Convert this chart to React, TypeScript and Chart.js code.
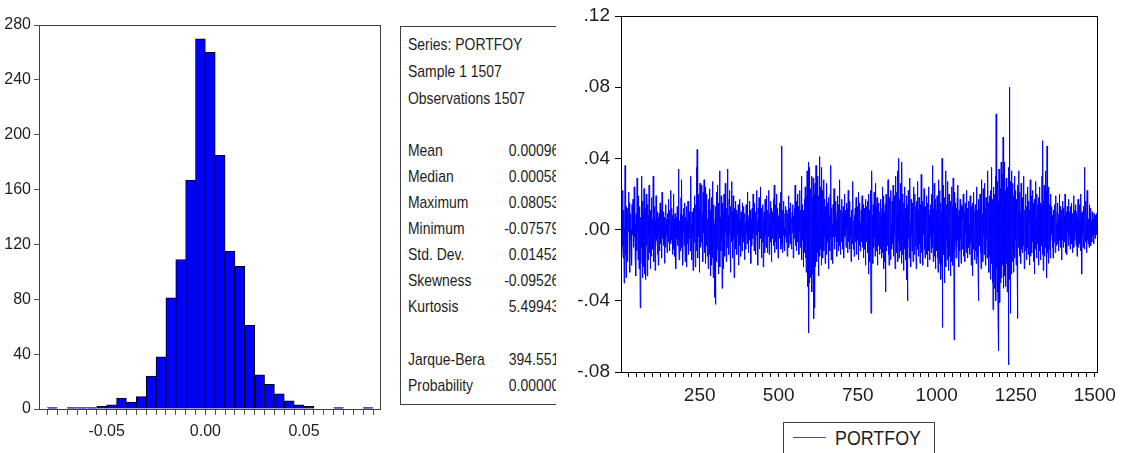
import React, { useEffect, useRef } from "react";
import { Chart, registerables } from "chart.js";

Chart.register(...registerables);

const FONT = "'Liberation Sans', Arial, sans-serif";

// ---------- Histogram ----------
const HIST_BIN_EDGES = [
  -0.08, -0.075, -0.07, -0.065, -0.06, -0.055, -0.05, -0.045, -0.04, -0.035, -0.03, -0.025,
  -0.02, -0.015, -0.01, -0.005, 0, 0.005, 0.01, 0.015, 0.02, 0.025, 0.03, 0.035, 0.04,
  0.045, 0.05, 0.055, 0.06, 0.065, 0.07, 0.075, 0.08, 0.085,
];
const HIST_COUNTS = [
  1, 0, 1, 1, 1, 2, 3, 8, 5, 9, 24, 38, 81, 109, 167, 270, 260, 185, 115, 104, 61, 25, 18,
  11, 6, 3, 2, 0, 0, 1, 0, 0, 1,
];
const HIST_AXIS_MIN = -0.0843;
const HIST_AXIS_MAX = 0.0885;
const HIST_Y_TICKS = [0, 40, 80, 120, 160, 200, 240, 280];
const HIST_X_LABEL_VALUES = [-0.05, 0, 0.05];
const HIST_X_LABEL_TEXT = ["-0.05", "0.00", "0.05"];

// ---------- Statistics box ----------
const STATS_HEADER = ["Series: PORTFOY", "Sample 1 1507", "Observations 1507"];
const STATS_LABELS = ["Mean", "Median", "Maximum", "Minimum", "Std. Dev.", "Skewness", "Kurtosis"];
const STATS_VALUES = ["0.000963", "0.000586", "0.080533", "-0.075791", "0.014522", "-0.095261", "5.499431"];
const TEST_LABELS = ["Jarque-Bera", "Probability"];
const TEST_VALUES = ["394.5510", "0.000000"];

// ---------- PORTFOY series (values in thousandths) ----------
const PORTFOY_1 = [
  4, -12, 18, -2, 7, 22, -9, -16, 3, 11, -30, 1, -6, 36, -14, 2, -27, 13, -4, 8,
  -18, 3, 12, -1, 6, 21, -8, 15, -24, 2, -5, 9, -13, 0, -20, 14, 4, -3, 17, -10,
  1, -7, 24, -4, 11, -15, 3, -26, 9, 2, -12, 29, -1, 5, -17, 8, 19, -22, 4, -6,
  13, -44, 7, -19, 3, 30, -10, 16, -27, 1, 9, -21, 4, 23, -2, -25, 6, 12, -28, 5,
  20, -9, 2, -26, 14, 5, -17, 8, -3, 25, -13, 0, 7, -22, 11, -4, 18, -15, 3, -8,
  6, -11, 30, 2, -18, 8, -4, 13, -23, 5, -9, 19, 1, -6, 4, -14, 10, 3, -20, 7,
  -4, 9, -12, 3, 15, -1, -8, 11, 0, -16, 21, -5, 2, 10, -9, 4, -2, 7, -19, 6,
  1, -10, 14, -3, 6, 0, -13, 9, -2, 4, 17, -7, -3, 11, -12, 3, 5, -8, 22, -1,
  -6, 12, 2, -14, 8, -4, 20, -11, 1, 6, -15, 9, -2, 4, -22, 7, 1, -5, 13, -9,
  3, 11, 34, -6, -17, 5, 2, -12, 9, -3, 18, -10, 28, -4, 1, 8, -20, 6, -1, 12,
  -9, 3, 15, -18, 1, 7, -4, 13, -21, 5, 2, -8, 16, -3, -14, 6, 10, -5, 1, -12,
  7, 30, -6, 3, -17, 10, -2, 5, -23, 12, 1, -7, 19, -3, 8, -21, 4, 14, -6, 35,
  -12, 45, 2, -16, 7, 20, -4, 11, -24, 5, 26, -10, 3, 18, -7, 13, 25, -5, 9, -18,
  21, -2, 8, 28, -13, 5, 16, -19, 24, -1, 12, -9, 20, -15, 6, 2, -22, 17, -5, 10,
  -14, 23, 4, -26, 11, -7, 18, -20, 2, 27, -16, 6, -27, 14, -10, 3, -23, -38, 6, -42,
  13, -18, 21, 1, -11, 8, 25, -14, 4, -25, 15, -3, 33, -21, 7, 1, -12, 19, -6, 10,
  -33, 15, -4, 11, -22, 5, 20, -8, 2, -15, 26, -2, 7, -18, 12, 3, -10, 34, -5, 8,
  1, -14, 17, -3, 22, -11, 6, -24, 13, 1, 27, -7, 10, -16, 3, 19, -5, 8, -27, 12,
  -2, 7, -11, 16, 1, -6, 11, -14, 4, 9, -3, 14, -20, 2, 6, -9, 17, -1, 5, -15,
  10, -4, 3, -12, 15, 0, -7, 6, 13, -5, 2, -17, 9, -1, 4, -11, 14, -2, 7, -8,
  21, -3, 5, -13, 1, 8, -6, 16, -4, 11, -1, -19, 6, 3, -9, 12, 1, -5, 20, -2,
  4, -12, 7, 15, -6, 1, -14, 10, -3, 22, 2, -9, 5, -20, 12, -1, 6, 18, -11, 3,
  -5, 24, -2, 9, -16, 3, 12, -7, 1, 14, -21, 6, -4, 10, 2, -13, 17, -3, 8, -10,
  1, 19, -6, 3, -13, 11, 0, -4, 22, -14, 5, 9, -2, 16, -7, 2, -18, 12, 4, -5,
  10, -1, 17, -9, 3, 25, -13, 6, -3, 14, -7, 1, 20, -11, 5, -2, 12, -16, 7, 1,
];
const PORTFOY_2 = [
  8, -5, 15, -2, 4, 21, -11, 6, 47, -8, 2, -13, 11, -3, 5, 16, -9, 1, -12, 9,
  -4, 7, 13, -7, 1, 11, -15, 3, 9, -1, 19, -10, 5, -3, 12, -8, 2, 15, -5, 6,
  -11, 4, 10, -2, 14, -16, 1, 8, -5, 12, -1, 25, -9, 3, 16, -12, 6, -4, 20, 1,
  -7, 13, 4, -14, 8, -1, 22, -10, 5, 11, -4, 30, -17, 2, 14, -6, 8, -21, 11, 3,
  -13, 17, -8, 24, -16, 5, -24, 19, -4, 33, -32, -19, 12, 38, -58, 8, -30, 35, -22, 14,
  -27, 23, -12, 30, -35, 7, 18, -25, 29, -32, -50, 20, -14, -44, 26, 5, -21, 36, -8, 15,
  -18, 11, 30, -13, 4, -26, 19, -7, 41, -15, 8, 24, -11, 3, -20, 35, 14, -8, 22, -16,
  6, 28, -12, 17, -4, 10, -19, 13, 2, -9, 26, -14, 5, 15, -7, 11, -22, 4, 18, -3,
  8, -12, 20, -5, 36, -17, 4, 12, -10, 3, -19, 14, -4, 7, 23, -11, 2, -7, 16, -4,
  11, -2, 6, -15, 10, 19, -7, 4, -12, 14, 1, -9, 28, -4, 7, -14, 11, 3, -7, 17,
  -5, 9, -11, 13, 2, -16, 7, 20, -4, 11, -3, 5, -10, 15, -7, 1, 12, -13, 4, 22,
  -7, 10, 3, -11, 16, -4, 7, -2, -18, 11, 4, -8, 14, -4, 27, -11, 5, 2, -15, 8,
  -3, 12, -7, 5, 18, -14, 4, 10, -6, 13, -1, -17, 21, 7, -9, 3, 15, -12, 4, -4,
  11, -7, 7, 19, -10, 2, 14, -16, 5, -3, 12, -11, 4, 17, -20, 8, -2, 13, -7, 3,
  16, -13, 7, -25, 20, -6, 11, -18, 4, 22, -9, -47, 15, -30, 33, -12, 8, -19, 14, 2,
  -10, 21, -4, 9, -15, 26, 3, -12, 13, -7, 18, -20, 6, 11, -3, 15, -9, 4, -14, 10,
  5, -11, 17, -2, 8, -16, 12, 24, -13, 3, 19, -8, -22, 10, 6, -18, 14, -35, 7, 20,
  -12, 15, 4, -9, 11, 28, -14, 6, -20, 18, -5, 13, 9, -17, 22, -6, 3, -11, 16, 1,
  -8, 25, -15, 12, -3, 19, 6, -22, 30, -10, 14, -5, 21, -13, 8, 33, -18, 11, -7, 40,
  -16, 17, 4, -12, 26, -9, 13, -19, 7, 38, -14, 20, -6, 10, -23, 15, 3, -11, 24, -8,
  12, -17, 6, 19, -28, 9, -40, 14, -10, 22, -5, 11, -16, 7, 29, -13, 4, -21, 17, -3,
  8, -12, 15, 2, -18, 24, -7, 10, -14, 5, 20, -9, 13, -4, -22, 16, 6, -11, 27, -6,
  11, -15, 3, 18, -8, 9, -19, 14, 2, -10, 31, -13, 7, -5, 16, -20, 12, -3, 8, 23,
  -11, 6, -16, 13, 4, -9, 19, -14, 10, 1, -21, 15, -6, 24, -12, 8, 3, -17, 11, -4,
  14, -8, 20, -13, 5, 36, -10, 7, -18, 12, -3, 26, -15, 9, 2, -22, 17, -7, 11, -12,
];
const PORTFOY_3 = [
  19, -16, 8, -24, 13, 28, -11, 5, -19, 22, -8, 15, -28, 10, 3, -20, 40, -55, 17, -9,
  25, -14, 11, -30, 6, 18, -12, 33, -21, 9, -6, 14, -17, 27, -10, 4, -23, 12, 20, -15,
  7, -9, 16, -26, 11, 3, -18, 24, -8, 13, -20, 29, -13, 6, -62, 21, -11, 15, -7, 9,
  -16, 12, 2, -10, 18, -6, 25, -14, 8, -21, 11, 4, -12, 17, -5, 9, -19, 14, 1, -8,
  13, -11, 6, 20, -15, 3, -7, 10, -18, 15, -2, 8, -13, 22, -9, 5, 12, -16, 7, -4,
  16, -10, 3, -14, 11, 19, -8, 6, -20, 13, -3, 9, -26, 15, 4, -11, 21, -6, 10, -17,
  8, 14, -12, 2, -19, 24, -7, 11, -15, 5, -27, -40, 17, -9, 12, -4, 20, -13, 6, -22,
  28, -11, 14, -6, 9, -18, 23, -3, 15, -14, 7, 26, -9, 12, -20, 18, -5, 10, -16, 21,
  -12, 33, -8, 15, -24, 11, 19, -15, 6, -28, 22, -10, 35, -19, 13, -30, 17, -45, 24, -14,
  9, -33, 20, -26, 15, 30, -40, 65, -22, 12, -35, 27, -18, -50, 16, -68, 34, -25, 19, -41,
  23, -30, 11, 38, -27, 14, -20, 31, -15, 52, -33, 25, -12, 38, -26, 18, -32, 22, -10, 29,
  -19, 13, -35, 24, -22, 16, -76, 35, -28, 80, -21, 20, -47, 27, -14, 33, -25, 12, -18, 26,
  -11, 19, -24, 15, -9, 30, -16, 22, -6, 13, -20, 17, 8, -14, 25, -50, 18, -10, 33, -7,
  12, -15, 21, -4, 9, -19, 26, -11, 14, -2, 18, -13, 7, 30, -9, 16, -22, 5, 11, -6,
  20, -12, 8, -17, 13, 3, -10, 24, -14, 9, 16, -6, -20, 11, 4, 28, -15, 7, -9, 19,
  -13, 10, 22, -7, 15, -18, 5, 12, -25, 17, -4, 9, 27, -11, 6, -16, 20, -3, 14, -8,
  11, -20, 18, -6, 24, -12, 9, 15, -17, 13, 2, -9, 30, -14, 21, 50, -23, 16, -7, 25,
  -15, 19, -10, 33, -5, 12, 22, -27, 47, -13, 28, -8, 18, -19, 24, -11, 14, 6, -16, 20,
  -6, 10, -3, 13, 5, -10, 8, -16, 11, 2, -7, 14, -4, 9, -13, 6, 19, -9, 3, -5,
  10, -8, 15, -2, 6, -12, 9, 20, -6, 4, -10, 13, -3, 7, -17, 11, 1, -6, 16, -10,
  5, 12, -7, 8, -3, 20, -13, 6, -4, 10, 2, -14, 13, -1, 7, -9, 17, -6, 10, -3,
  6, -11, 13, 3, -8, 15, -5, 9, -13, 6, 1, -7, 19, -10, 4, 11, -6, 8, -2, 14,
  -9, 5, 10, -15, 7, -3, 17, -10, 12, -6, 3, 14, -8, 6, -12, 20, -4, 9, -25, 10,
  -3, 7, -10, 13, 1, -6, 35, -11, 8, -4, 16, -7, 4, -13, 10, 22, -6, 11, -8, 3,
  6, -10, 14, -3, 9, -6, 12, -9, 5, 2, -7, 10, -4, 7, -2, 6, -8, 9, -3, 4,
  -5, 8, -1, 6, -3, 9, 2,
];
const SERIES_NAME = "PORTFOY";
const LINE_X_MIN = 1;
const LINE_X_MAX = 1507;
const LINE_X_LABELS = [250, 500, 750, 1000, 1250, 1500];
const LINE_X_MINOR_STEP = 25;
const LINE_Y_TICKS = [-0.08, -0.04, 0, 0.04, 0.08, 0.12];
const LINE_Y_LABELS = ["-.08", "-.04", ".00", ".04", ".08", ".12"];

const TEXT_COLOR = "#1e1e1e";

function framePlugin(color: string) {
  return {
    id: "frame",
    afterDatasetsDraw(chart: any) {
      const { ctx, chartArea: a } = chart;
      ctx.save();
      ctx.strokeStyle = color;
      ctx.lineWidth = 1;
      const l = Math.round(a.left) + 0.5;
      const t = Math.round(a.top) + 0.5;
      const r = Math.round(a.right) + 0.5;
      const b = Math.round(a.bottom) + 0.5;
      ctx.strokeRect(l, t, r - l, b - t);
      ctx.restore();
    },
  };
}

function zeroPad(s: any) {
  s.paddingLeft = 0;
  s.paddingRight = 0;
  s.paddingTop = 0;
  s.paddingBottom = 0;
}

export default function App() {
  const histRef = useRef<HTMLCanvasElement>(null);
  const lineRef = useRef<HTMLCanvasElement>(null);

  useEffect(() => {
    const histData = HIST_COUNTS.map((c, i) => ({
      x: (HIST_BIN_EDGES[i] + HIST_BIN_EDGES[i + 1]) / 2,
      y: c,
    }));
    const histFont = { family: FONT, size: 16 };
    const hist = new Chart(histRef.current as HTMLCanvasElement, {
      type: "bar",
      data: {
        datasets: [
          {
            data: histData as any,
            backgroundColor: "#0000ff",
            borderColor: "#000000",
            borderWidth: 1,
            barPercentage: 1,
            categoryPercentage: 1,
          },
        ],
      },
      options: {
        responsive: false,
        animation: false,
        devicePixelRatio: 1,
        layout: { padding: { left: 0, top: 25, right: 15, bottom: 0 } },
        plugins: { legend: { display: false }, tooltip: { enabled: false } },
        scales: {
          x: {
            type: "linear",
            min: HIST_AXIS_MIN,
            max: HIST_AXIS_MAX,
            offset: false,
            afterBuildTicks: (s: any) => {
              s.ticks = HIST_BIN_EDGES.map((v) => ({ value: v }));
            },
            ticks: {
              autoSkip: false,
              maxRotation: 0,
              minRotation: 0,
              padding: 7,
              color: TEXT_COLOR,
              font: histFont,
              callback: (v: any) => {
                const k = HIST_X_LABEL_VALUES.findIndex((t) => Math.abs(t - Number(v)) < 1e-9);
                return k >= 0 ? HIST_X_LABEL_TEXT[k] : "";
              },
            },
            grid: { offset: false, drawOnChartArea: false, drawTicks: true, tickLength: 6, color: "#555555" },
            border: { display: false },
            afterFit: (s: any) => {
              s.height = 44;
              zeroPad(s);
            },
          } as any,
          y: {
            min: 0,
            max: 280,
            afterBuildTicks: (s: any) => {
              s.ticks = HIST_Y_TICKS.map((v) => ({ value: v }));
            },
            ticks: {
              padding: 3,
              color: TEXT_COLOR,
              font: histFont,
            },
            grid: { drawOnChartArea: false, drawTicks: true, tickLength: 5, color: "#555555" },
            border: { display: false },
            afterFit: (s: any) => {
              s.width = 39;
              zeroPad(s);
            },
          } as any,
        },
      },
      plugins: [framePlugin("#404040")],
    });

    const values = [...PORTFOY_1, ...PORTFOY_2, ...PORTFOY_3];
    const lineData = values.map((v, i) => ({ x: LINE_X_MIN + i, y: v / 1000 }));
    const lineFont = { family: FONT, size: 19 };
    const line = new Chart(lineRef.current as HTMLCanvasElement, {
      type: "line",
      data: {
        datasets: [
          {
            label: SERIES_NAME,
            data: lineData as any,
            borderColor: "#0000ff",
            borderWidth: 1,
            pointRadius: 0,
            tension: 0,
            fill: false,
          },
        ],
      },
      options: {
        responsive: false,
        animation: false,
        devicePixelRatio: 1,
        layout: { padding: { left: 0, top: 16, right: 26, bottom: 0 } },
        plugins: { legend: { display: false }, tooltip: { enabled: false } },
        scales: {
          x: {
            type: "linear",
            min: LINE_X_MIN,
            max: LINE_X_MAX,
            afterBuildTicks: (s: any) => {
              const t: any[] = [];
              for (let v = LINE_X_MINOR_STEP; v <= LINE_X_MAX; v += LINE_X_MINOR_STEP) t.push({ value: v });
              s.ticks = t;
            },
            ticks: {
              autoSkip: false,
              maxRotation: 0,
              minRotation: 0,
              padding: 7,
              color: TEXT_COLOR,
              font: lineFont,
              callback: (v: any) => (LINE_X_LABELS.includes(Number(v)) ? String(v) : ""),
            },
            grid: { drawOnChartArea: false, drawTicks: true, tickLength: 5, color: "#000000" },
            border: { display: false },
            afterFit: (s: any) => {
              s.height = 81;
              zeroPad(s);
            },
          } as any,
          y: {
            min: -0.08,
            max: 0.12,
            afterBuildTicks: (s: any) => {
              s.ticks = LINE_Y_TICKS.map((v) => ({ value: v }));
            },
            ticks: {
              padding: 5,
              color: TEXT_COLOR,
              font: lineFont,
              callback: (v: any) => {
                const k = LINE_Y_TICKS.findIndex((t) => Math.abs(t - Number(v)) < 1e-9);
                return k >= 0 ? LINE_Y_LABELS[k] : "";
              },
            },
            grid: { drawOnChartArea: false, drawTicks: true, tickLength: 6, color: "#000000" },
            border: { display: false },
            afterFit: (s: any) => {
              s.width = 66;
              zeroPad(s);
            },
          } as any,
        },
      },
      plugins: [framePlugin("#000000")],
    });

    return () => {
      hist.destroy();
      line.destroy();
    };
  }, []);

  const statLine = (top: number, text: string, key: string, right = false) => (
    <div
      key={key}
      style={{
        position: "absolute",
        top: top - 27 - 10,
        left: right ? 46 : 7,
        width: 120,
        height: 20,
        lineHeight: "20px",
        textAlign: right ? "right" : "left",
        whiteSpace: "nowrap",
        transform: "scaleX(0.82)",
        transformOrigin: right ? "right center" : "left center",
      }}
    >
      {text}
    </div>
  );

  const headerY = [45, 72, 99];
  const statY = [151, 177, 203, 229, 255, 281, 307];
  const testY = [360, 386];

  return (
    <div
      style={{
        position: "absolute",
        left: 0,
        top: 0,
        width: 1123,
        height: 453,
        overflow: "hidden",
        background: "#ffffff",
      }}
    >
      <canvas ref={histRef} width={395} height={453} style={{ position: "absolute", left: 0, top: 0 }} />
      <div
        style={{
          position: "absolute",
          left: 400,
          top: 26,
          width: 155,
          height: 377,
          borderLeft: "1px solid #404040",
          borderTop: "1px solid #404040",
          borderBottom: "1px solid #404040",
          overflow: "hidden",
          fontFamily: FONT,
          fontSize: 17,
          color: TEXT_COLOR,
        }}
      >
        {STATS_HEADER.map((t, i) => statLine(headerY[i], t, "h" + i))}
        {STATS_LABELS.map((t, i) => statLine(statY[i], t, "l" + i))}
        {STATS_VALUES.map((t, i) => statLine(statY[i], t, "v" + i, true))}
        {TEST_LABELS.map((t, i) => statLine(testY[i], t, "tl" + i))}
        {TEST_VALUES.map((t, i) => statLine(testY[i], t, "tv" + i, true))}
      </div>
      <canvas ref={lineRef} width={568} height={453} style={{ position: "absolute", left: 555, top: 0 }} />
      <div
        style={{
          position: "absolute",
          left: 783,
          top: 422,
          width: 150,
          height: 40,
          border: "1px solid #404040",
          background: "#ffffff",
        }}
      >
        <div
          style={{
            position: "absolute",
            left: 9,
            top: 14,
            width: 33,
            height: 0,
            borderTop: "1px solid #4040ff",
          }}
        />
        <div
          style={{
            position: "absolute",
            left: 51,
            top: 3,
            height: 24,
            lineHeight: "24px",
            fontFamily: FONT,
            fontSize: 21,
            color: TEXT_COLOR,
            whiteSpace: "nowrap",
            transform: "scaleX(0.85)",
            transformOrigin: "left center",
          }}
        >
          {SERIES_NAME}
        </div>
      </div>
    </div>
  );
}
